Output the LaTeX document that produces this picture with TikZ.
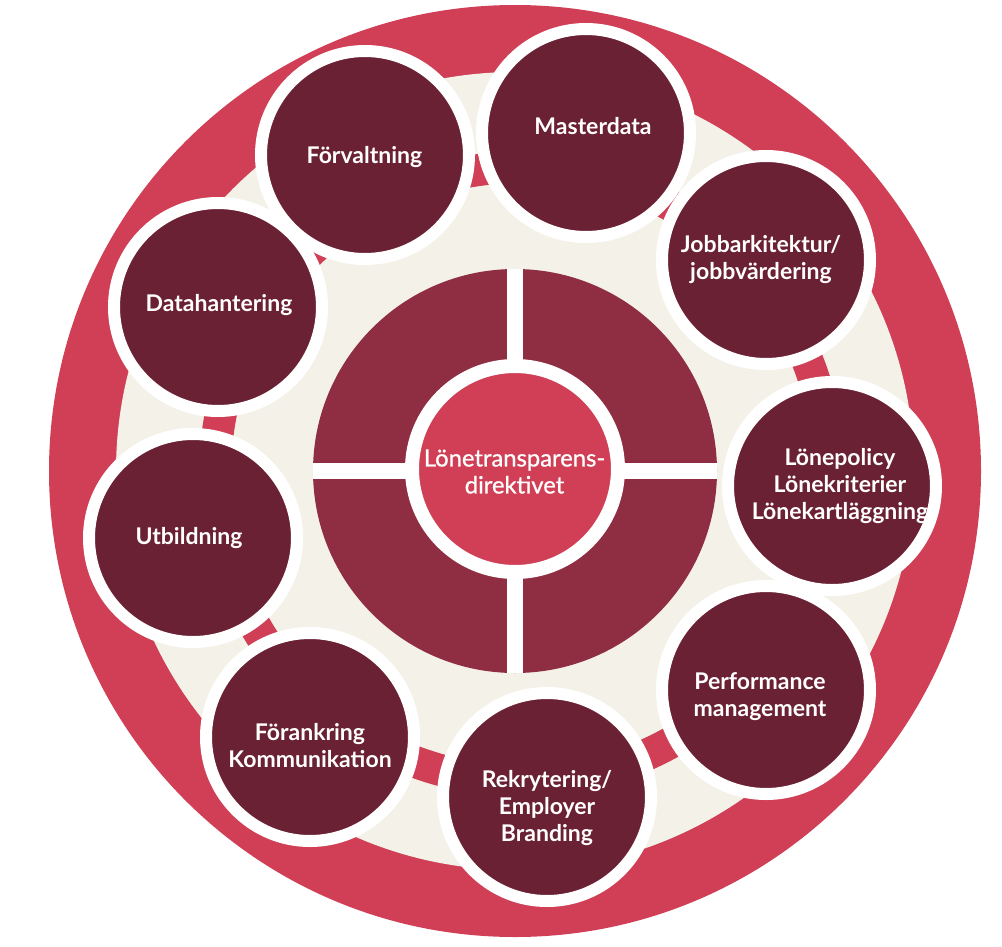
\documentclass[tikz,border=0pt]{standalone}
\usepackage{fontspec}
\setmainfont{Lato}
\newfontfamily\corefont[FakeBold=0.8]{Lato}
\definecolor{outerred}{HTML}{D03F55}
\definecolor{cream}{HTML}{F4F2E8}
\definecolor{midwine}{HTML}{8F2D42}
\definecolor{darkwine}{HTML}{6B2134}
\begin{document}
\begin{tikzpicture}[x=1pt,y=-1pt,
  sat/.style={circle, fill=darkwine, draw=white, line width=12pt, minimum size=208pt, inner sep=0pt},
  lbl/.style={text=white, font=\fontsize{23}{27}\selectfont\bfseries, align=center, inner sep=0pt},
  corelbl/.style={text=white, font=\corefont\fontsize{23.8}{27}\selectfont, align=center, inner sep=0pt}]
\useasboundingbox (0,0) rectangle (1002,946);
% background rings
\fill[outerred] (515,471) circle (466pt);
\fill[cream] (515,471) circle (399pt);
\draw[outerred, line width=32pt] (522,474) circle (307pt);
% middle disc with cross
\fill[midwine] (515,471) circle (202pt);
\begin{scope}
  \clip (515,471) circle (202pt);
  \fill[white] (507,260) rectangle (523,690);
  \fill[white] (300,463) rectangle (730,479);
\end{scope}
\node[circle, fill=outerred, draw=white, line width=14pt, minimum size=206pt, inner sep=0pt] (core) at (515,469) {};
\node[corelbl] (coret) at (514.5,471.5) {Lönetransparens-\\direktivet};
% satellites
\node[sat] (forv) at (365,155) {};
\node[sat] (mast) at (586,133) {};
\node[sat] (jobb) at (766,260) {};
\node[sat] (lone) at (832,486) {};
\node[sat] (perf) at (766,690) {};
\node[sat] (rekr) at (547,797) {};
\node[sat] (fora) at (310,737) {};
\node[sat] (utbi) at (193,538) {};
\node[sat] (data) at (218,307) {};
% labels
\node[lbl] (forvt) at (364.5,157) {Förvaltning};
\node[lbl] (mastt) at (593,126) {Masterdata};
\node[lbl] (jobbt) at (761,260) {Jobbarkitektur/\\jobbvärdering};
\begin{scope}
  \clip (lone.center) circle (98pt);
  \node[lbl] (lonet) at (840,486) {Lönepolicy\\Lönekriterier\\Lönekartläggning};
\end{scope}
\node[lbl] (perft) at (760,697) {Performance\\management};
\node[lbl] (rekrt) at (547,808) {Rekrytering/\\Employer\\Branding};
\node[lbl] (forat) at (310,746) {Förankring\\Kommunikation};
\node[lbl] (utbit) at (189,538) {Utbildning};
\node[lbl] (datat) at (219,305) {Datahantering};
\end{tikzpicture}
\end{document}
